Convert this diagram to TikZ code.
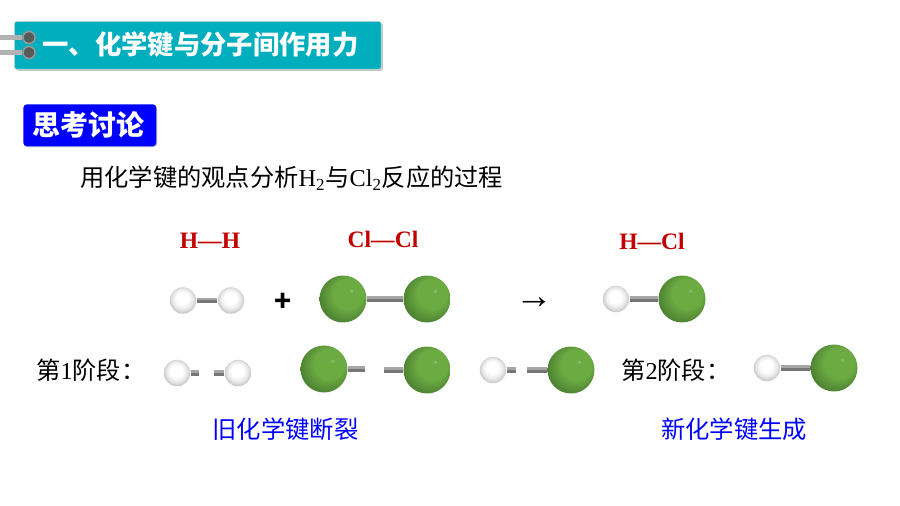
\documentclass[tikz,border=0pt]{standalone}
\usepackage{fontspec}
\setmainfont{Liberation Serif}
\newfontfamily\cjk{Noto Sans CJK SC}
\usetikzlibrary{shadows}

\definecolor{headcolor}{RGB}{0,174,189}
\definecolor{bondcolor}{RGB}{118,118,118}
\definecolor{redcolor}{RGB}{192,0,0}
\definecolor{clhigh}{RGB}{150,190,125}
\definecolor{clmid}{RGB}{108,170,66}
\definecolor{cldark}{RGB}{76,128,50}
\definecolor{clrim}{RGB}{40,62,32}

\pgfdeclareradialshading{hshade}{\pgfpoint{-2bp}{6bp}}{%
  color(0bp)=(white); color(11bp)=(white); color(18bp)=(black!7);
  color(24bp)=(black!18); color(30bp)=(black!36); color(36bp)=(black!52)}
\pgfdeclareradialshading{clshade}{\pgfpoint{9bp}{9bp}}{%
  color(0bp)=(clhigh); color(2.5bp)=(clmid); color(16bp)=(clmid);
  color(29bp)=(cldark); color(42bp)=(clrim)}

\tikzset{
  hatom/.style={circle, minimum size=0.53cm, inner sep=0pt, shading=hshade},
  clatom/.style={circle, minimum size=0.94cm, inner sep=0pt, shading=clshade},
  bond/.style={draw=bondcolor, line width=0.11cm,
    postaction={draw=black!35, line width=0.05cm, transform canvas={yshift=0.025cm}}},
  redlabel/.style={text=redcolor, font=\fontsize{13.4}{16}\selectfont\bfseries, anchor=center},
  bodytext/.style={font=\fontsize{13.8}{16}\selectfont, anchor=west, inner sep=0pt},
  bluetext/.style={text=blue, font=\cjk\fontsize{13.85}{16}\selectfont, anchor=center},
  ringnode/.style={circle, draw=black!40, fill=black!65, line width=0.03cm, minimum size=0.24cm, inner sep=0pt},
  ringline/.style={draw=black!30, line width=0.09cm}
}

\begin{document}
\begin{tikzpicture}[x=0.02cm,y=-0.02cm]
\useasboundingbox (0,0) rectangle (900,506);

% title bar
\node[anchor=north west, minimum width=7.34cm, minimum height=0.96cm, inner sep=0pt, rounded corners=0.05cm,
  fill=headcolor, draw=black!15, drop shadow={shadow xshift=0.03cm, shadow yshift=-0.03cm, opacity=0.45}] (headbox) at (14,21) {};
\node[anchor=center, text=white, font=\cjk\bfseries\fontsize{15}{18}\selectfont] (headtext) at (200.5,45) {一、化学键与分子间作用力};

\coordinate (ringa) at (0,37.5);
\coordinate (ringb) at (0,52.5);
\node[ringnode] (ringc) at (29,37.5) {};
\node[ringnode] (ringd) at (29,52.5) {};
\draw[ringline] (ringa) -- (ringc);
\draw[ringline] (ringb) -- (ringd);

% discussion tag
\node[anchor=north west, minimum width=2.66cm, minimum height=0.84cm, inner sep=0pt, rounded corners=0.07cm,
  fill=blue, drop shadow={shadow xshift=0.02cm, shadow yshift=-0.02cm, opacity=0.35}] (tagbox) at (23,104) {};
\node[anchor=center, text=white, font=\cjk\bfseries\fontsize{15.9}{18}\selectfont] (tagtext) at (88.5,125) {思考讨论};

\node[bodytext] (question) at (80,178) {{\cjk 用化学键的观点分析}H\textsubscript{2}{\cjk 与}Cl\textsubscript{2}{\cjk 反应的过程}};

% formulas
\node[redlabel] (labelhh) at (210,241) {H—H};
\node[redlabel] (labelclcl) at (383,239) {Cl—Cl};
\node[redlabel] (labelhcl) at (652,241) {H—Cl};

% first row
\node[hatom] (ha) at (183,300.5) {};
\node[hatom] (hb) at (231,300.5) {};
\draw[bond] (ha) -- (hb);

\node[anchor=center, font=\cjk\bfseries\fontsize{16}{18}\selectfont] (plus) at (283,302) {+};

\node[clatom] (cla) at (343,299) {};
\node[clatom] (clb) at (427,299) {};
\draw[bond] (cla) -- (clb);

\node[anchor=center, font=\fontsize{21.5}{24}\selectfont] (arrow) at (534,303) {→};

\node[hatom] (hc) at (616,299) {};
\node[clatom] (clc) at (682,299) {};
\draw[bond] (hc) -- (clc);

% second row
\node[bodytext] (stepa) at (36,370) {{\cjk 第}1{\cjk 阶段：}};

\node[hatom] (hd) at (177,373) {};
\coordinate (hdend) at (199,373);
\draw[bond] (hd) -- (hdend);
\node[hatom] (he) at (238,373) {};
\coordinate (heend) at (214,373);
\draw[bond] (he) -- (heend);

\node[clatom] (cld) at (324,369) {};
\coordinate (cldend) at (365,369);
\draw[bond] (cld) -- (cldend);
\node[clatom] (cle) at (427,370) {};
\coordinate (cleend) at (384,370);
\draw[bond] (cle) -- (cleend);

\node[hatom] (hf) at (493,370) {};
\coordinate (hfend) at (516,370);
\draw[bond] (hf) -- (hfend);
\node[clatom] (clf) at (571,370) {};
\coordinate (clfend) at (527,370);
\draw[bond] (clf) -- (clfend);

\node[bodytext] (stepb) at (621,370) {{\cjk 第}2{\cjk 阶段：}};

\node[hatom] (hg) at (767,368) {};
\node[clatom] (clg) at (834,368) {};
\draw[bond] (hg) -- (clg);

% captions
\node[bluetext] (breaktext) at (285.5,429) {旧化学键断裂};
\node[bluetext] (formtext) at (734,429) {新化学键生成};

\end{tikzpicture}
\end{document}
